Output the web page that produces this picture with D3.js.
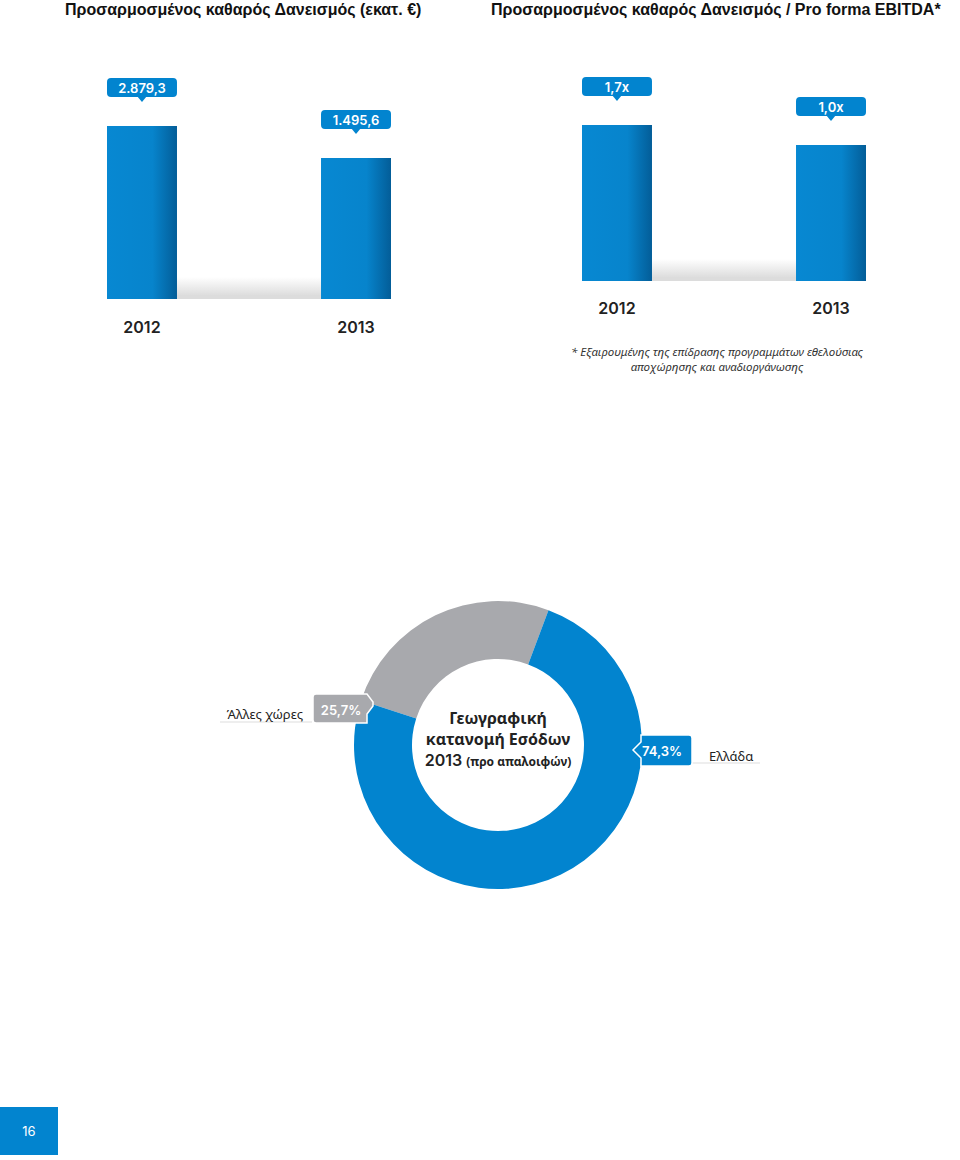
<!DOCTYPE html>
<html><head><meta charset="utf-8">
<script src="https://cdn.jsdelivr.net/npm/d3@7"></script>
<style>body{margin:0;background:#fff}svg{display:block}</style>
</head><body>
<script>
// data
var years = ['2012', '2013'];
var debtValues = [2879.3, 1495.6];
var debtLabels = ['2.879,3', '1.495,6'];
var ratioValues = [1.7, 1.0];
var ratioLabels = ['1,7x', '1,0x'];
var regions = ['Άλλες χώρες', 'Ελλάδα'];
var regionShares = [25.7, 74.3];
var regionLabels = ['25,7%', '74,3%'];

var blue = '#0284cf';
var svg = d3.select('body').append('svg').attr('width', 960).attr('height', 1160);
var defs = svg.append('defs');
var g1 = defs.append('linearGradient').attr('id', 'barGrad');
g1.append('stop').attr('offset', '0%').attr('stop-color', '#0788d2');
g1.append('stop').attr('offset', '65%').attr('stop-color', '#0784cc');
g1.append('stop').attr('offset', '100%').attr('stop-color', '#035d98');
var g2 = defs.append('linearGradient').attr('id', 'floor').attr('x1', 0).attr('x2', 0).attr('y1', 0).attr('y2', 1);
g2.append('stop').attr('offset', '0%').attr('stop-color', '#fff');
g2.append('stop').attr('offset', '100%').attr('stop-color', '#d6d6d6');

var titleFont = 'Liberation Sans, Arial, sans-serif';
var numFont = 'Inter, Lato, sans-serif';

svg.append('text').attr('x', 65).attr('y', 15).attr('font-family', titleFont).attr('font-weight', 'bold')
  .attr('font-size', 16).attr('fill', '#111').text('Προσαρμοσμένος καθαρός Δανεισμός (εκατ. €)');
svg.append('text').attr('x', 491).attr('y', 15).attr('font-family', titleFont).attr('font-weight', 'bold')
  .attr('font-size', 16).attr('fill', '#111').text('Προσαρμοσμένος καθαρός Δανεισμός / Pro forma EBITDA*');

function barChart(x0, x1, base, domainMin, domainMax, rangeTop, values, labels, yearY) {
  var x = d3.scaleBand().domain(years).range([x0, x1]).paddingInner(0.673).paddingOuter(0);
  var h = d3.scaleLinear().domain([domainMin, domainMax]).range([base, rangeTop]);
  var g = svg.append('g');
  var bw = x.bandwidth();
  g.append('rect').attr('x', x(years[0]) + bw).attr('y', base - 22).attr('width', x(years[1]) - x(years[0]) - bw)
    .attr('height', 22).attr('fill', 'url(#floor)');
  g.append('rect').attr('x', x(years[0]) + bw).attr('y', base - 4).attr('width', x(years[1]) - x(years[0]) - bw)
    .attr('height', 4).attr('fill', '#dcdcdc');
  years.forEach(function(yr, i) {
    var top = h(values[i]);
    g.append('rect').attr('x', x(yr)).attr('y', top).attr('width', bw).attr('height', base - top).attr('fill', 'url(#barGrad)');
    var cx = x(yr) + bw / 2;
    var boxY = top - 48;
    g.append('rect').attr('x', x(yr)).attr('y', boxY).attr('width', bw).attr('height', 19).attr('rx', 4).attr('fill', blue);
    g.append('path').attr('d', 'M' + (cx - 5) + ',' + (boxY + 18) + 'l5,6l5,-6z').attr('fill', blue);
    g.append('text').attr('x', cx).attr('y', boxY + 14.5).attr('text-anchor', 'middle').attr('fill', '#fff')
      .attr('font-family', numFont).attr('font-weight', 600).attr('font-size', 13).text(labels[i]);
    g.append('text').attr('x', cx).attr('y', yearY).attr('text-anchor', 'middle').attr('fill', '#222')
      .attr('font-family', numFont).attr('font-weight', 600).attr('font-size', 16).text(yr);
  });
}
barChart(107, 391, 299, -4600, 2879.3, 126, debtValues, debtLabels, 333);
barChart(582, 866, 281, -3.76, 1.7, 125, ratioValues, ratioLabels, 314);

svg.append('text').attr('x', 717).attr('y', 356).attr('text-anchor', 'middle').attr('font-family', 'Noto Sans, sans-serif')
  .attr('font-style', 'italic').attr('font-size', 11.5).attr('fill', '#333').text('* Εξαιρουμένης της επίδρασης προγραμμάτων εθελούσιας');
svg.append('text').attr('x', 717).attr('y', 371).attr('text-anchor', 'middle').attr('font-family', 'Noto Sans, sans-serif')
  .attr('font-style', 'italic').attr('font-size', 11.5).attr('fill', '#333').text('αποχώρησης και αναδιοργάνωσης');

// donut
var cx = 498, cy = 745;
var pie = d3.pie().sort(null).startAngle(-Math.PI * 0.40).endAngle(Math.PI * 1.60);
var arc = d3.arc().innerRadius(86).outerRadius(144);
var colors = ['#a8a9ad', blue];
svg.append('g').attr('transform', 'translate(' + cx + ',' + cy + ')').selectAll('path')
  .data(pie(regionShares)).join('path').attr('d', arc).attr('fill', function(d, i) { return colors[i]; });

var ct = svg.append('g').attr('font-family', 'Noto Sans, sans-serif').attr('font-weight', 'bold').attr('fill', '#222').attr('text-anchor', 'middle');
ct.append('text').attr('x', cx).attr('y', 724).attr('font-size', 16).text('Γεωγραφική');
ct.append('text').attr('x', cx).attr('y', 745).attr('font-size', 16).text('κατανομή Εσόδων');
var t3 = ct.append('text').attr('x', cx).attr('y', 766);
t3.append('tspan').attr('font-size', 16).attr('font-family', numFont).attr('font-weight', 600).text('2013 ');
t3.append('tspan').attr('font-size', 12).text('(προ απαλοιφών)');

// callouts
svg.append('line').attr('x1', 220).attr('x2', 312).attr('y1', 722).attr('y2', 722).attr('stroke', '#ddd');
svg.append('text').attr('x', 303).attr('y', 719).attr('text-anchor', 'end').attr('font-family', 'Noto Sans, sans-serif')
  .attr('font-size', 13).attr('fill', '#222').text(regions[0]);
svg.append('path').attr('d', 'M316,694h51l6,8v4l-6,8v9h-51a3,3 0 0 1 -3,-3v-23a3,3 0 0 1 3,-3z').attr('fill', '#a8a9ad')
  .attr('stroke', '#fff').attr('stroke-width', 1.5);
svg.append('text').attr('x', 341).attr('y', 715).attr('text-anchor', 'middle').attr('fill', '#fff').attr('font-family', numFont)
  .attr('font-weight', 600).attr('font-size', 13).text(regionLabels[0]);

svg.append('line').attr('x1', 690).attr('x2', 760).attr('y1', 763).attr('y2', 763).attr('stroke', '#ddd');
svg.append('text').attr('x', 709).attr('y', 761).attr('font-family', 'Noto Sans, sans-serif')
  .attr('font-size', 13).attr('fill', '#222').text(regions[1]);
svg.append('path').attr('d', 'M641,735h48a3,3 0 0 1 3,3v25a3,3 0 0 1 -3,3h-48v-8l-8,-8l8,-8z').attr('fill', blue)
  .attr('stroke', '#fff').attr('stroke-width', 1.5);
svg.append('text').attr('x', 662).attr('y', 756).attr('text-anchor', 'middle').attr('fill', '#fff').attr('font-family', numFont)
  .attr('font-weight', 600).attr('font-size', 13).text(regionLabels[1]);

// page number
svg.append('rect').attr('x', 0).attr('y', 1107).attr('width', 58).attr('height', 48).attr('fill', blue);
svg.append('text').attr('x', 29).attr('y', 1136).attr('text-anchor', 'middle').attr('fill', '#fff')
  .attr('font-family', numFont).attr('font-size', 13).text('16');
</script>
</body></html>
